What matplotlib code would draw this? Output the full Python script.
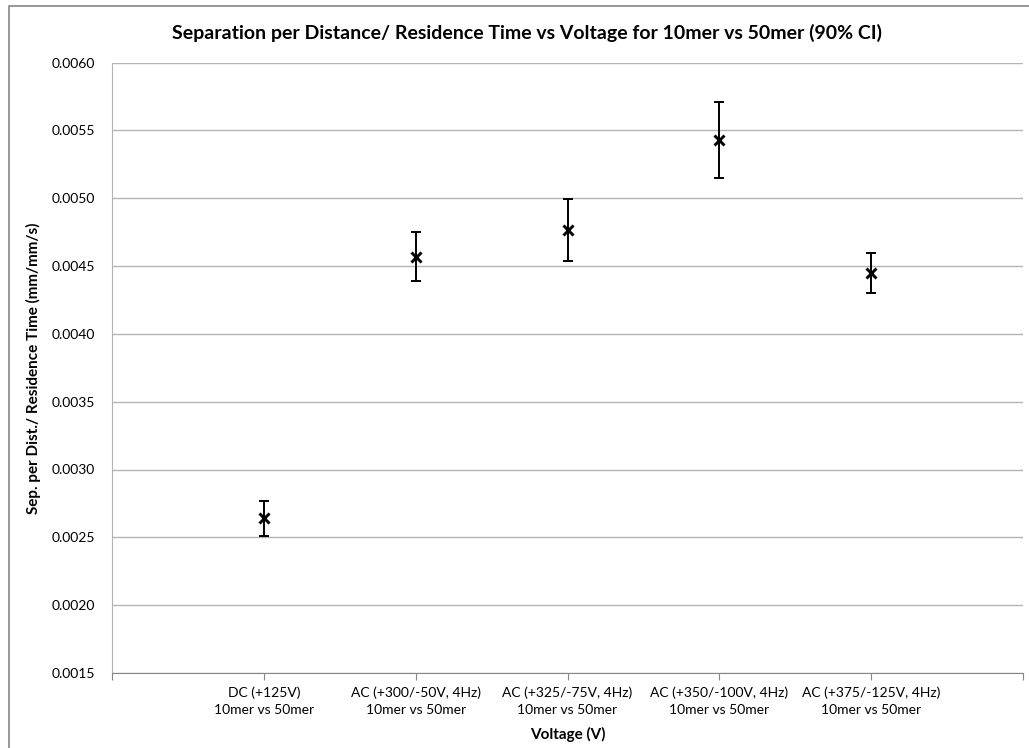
import matplotlib.pyplot as plt
from matplotlib.patches import Rectangle

plt.rcParams['font.family'] = ['Lato', 'DejaVu Sans']

kategorije = ['DC (+125V)\n10mer vs 50mer',
              'AC (+300/-50V, 4Hz)\n10mer vs 50mer',
              'AC (+325/-75V, 4Hz)\n10mer vs 50mer',
              'AC (+350/-100V, 4Hz)\n10mer vs 50mer',
              'AC (+375/-125V, 4Hz)\n10mer vs 50mer']
separacija = [0.002641, 0.004570, 0.004766, 0.005430, 0.004447]
greska_90 = [0.000130, 0.000180, 0.000230, 0.000278, 0.000148]
y_ticks = [0.0015, 0.0020, 0.0025, 0.0030, 0.0035, 0.0040, 0.0045, 0.0050, 0.0055, 0.0060]

fig = plt.figure(figsize=(10.29, 7.48), dpi=100)
ax = fig.add_axes([112 / 1029, 1 - 673 / 748, (1023 - 112) / 1029, (673 - 62.5) / 748])

# okvir oko cijelog grafikona
fig.patches.append(Rectangle((9 / 1029, -0.05), 1.2, 1 - 6 / 748 + 0.05,
                             transform=fig.transFigure, fill=False,
                             edgecolor='#868686', linewidth=1.2))

x = list(range(1, len(kategorije) + 1))
ax.errorbar(x, separacija, yerr=greska_90, fmt='none', ecolor='black',
            elinewidth=1.4, capsize=3.8, capthick=1.4, zorder=3)
ax.plot(x, separacija, linestyle='none', marker='x', color='black',
        markersize=7.5, markeredgewidth=2.1, zorder=4)

ax.set_xlim(0, len(kategorije) + 1)
ax.set_ylim(0.0015, 0.0060)
ax.set_yticks(y_ticks)
ax.set_yticklabels([f'{v:.4f}' for v in y_ticks], fontsize=10)
ax.set_xticks(range(0, len(kategorije) + 2))
ax.set_xticklabels([''] + kategorije + [''], fontsize=10, linespacing=1.45)
ax.tick_params(axis='y', length=0, pad=12, colors='black')
ax.tick_params(axis='x', length=5, direction='out', color='#868686', pad=5)

ax.grid(axis='y', color='#b3b3b3', linewidth=1)
ax.set_axisbelow(True)
for s in ['top', 'right']:
    ax.spines[s].set_visible(False)
ax.spines['left'].set_color('#b3b3b3')
ax.spines['bottom'].set_color('#868686')

fig.text(527 / 1029, 1 - 33 / 748,
         'Separation per Distance/ Residence Time vs Voltage for 10mer vs 50mer (90% CI)',
         fontsize=14, fontweight='bold', ha='center', va='center')
ax.set_xlabel('Voltage (V)', fontsize=11, fontweight='bold', labelpad=8)
ax.set_ylabel('Sep. per Dist./ Residence Time (mm/mm/s)', fontsize=11, fontweight='bold', labelpad=8)

plt.savefig('out.png', dpi=100)
